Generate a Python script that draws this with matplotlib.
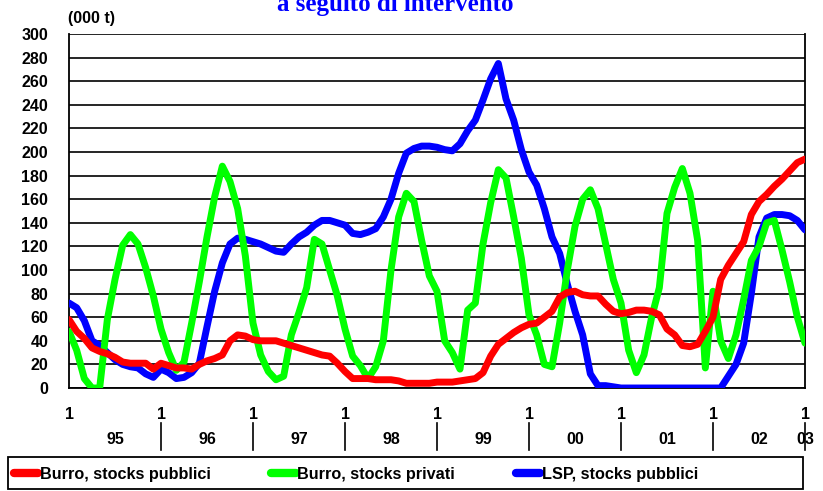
import numpy as np
import matplotlib
matplotlib.use('Agg')
import matplotlib.pyplot as plt
from matplotlib.patches import Rectangle
from matplotlib.lines import Line2D
import matplotlib.transforms as mtransforms

plt.rcParams['font.family'] = ['Liberation Sans', 'DejaVu Sans']
plt.rcParams['font.weight'] = 'bold'

# monthly stocks, Jan 1995 .. Jan 2003 (000 t)
burro_pubblici = [58, 48, 42, 34, 31, 29, 26, 22, 21, 21, 21, 16,
                  21, 19, 17, 17, 16, 20, 23, 25, 28, 40, 45, 44,
                  41, 40, 40, 40, 38, 36, 34, 32, 30, 28, 27, 21,
                  14, 8, 8, 8, 7, 7, 7, 6, 4, 4, 4, 4,
                  5, 5, 5, 6, 7, 8, 13, 27, 37, 42, 47, 51,
                  54, 55, 60, 65, 77, 81, 82, 79, 78, 78, 71, 65,
                  63, 64, 66, 66, 65, 62, 50, 45, 36, 35, 37, 48,
                  60, 92, 104, 114, 124, 147, 158, 164, 171, 177, 184, 191,
                  194]
burro_privati = [48, 32, 8, 0, 0, 58, 92, 121, 130, 122, 102, 78,
                 50, 30, 15, 22, 55, 90, 128, 162, 188, 175, 152, 112,
                 55, 28, 14, 7, 10, 45, 64, 85, 126, 122, 100, 78,
                 50, 27, 19, 8, 18, 40, 100, 145, 165, 158, 125, 95,
                 82, 40, 30, 16, 66, 72, 122, 157, 185, 178, 145, 110,
                 62, 45, 20, 18, 55, 100, 137, 160, 168, 152, 122, 92,
                 72, 32, 13, 28, 60, 85, 148, 170, 186, 165, 125, 17,
                 82, 40, 25, 45, 75, 108, 120, 140, 142, 117, 90, 60,
                 38]
lsp_pubblici = [72, 68, 57, 40, 36, 30, 24, 20, 18, 17, 12, 9,
                16, 13, 8, 9, 13, 21, 52, 82, 106, 122, 127, 126,
                124, 122, 119, 116, 115, 122, 128, 132, 138, 142, 142, 140,
                138, 131, 130, 132, 135, 145, 160, 182, 199, 203, 205, 205,
                204, 202, 201, 207, 218, 227, 244, 262, 275, 245, 227, 202,
                183, 172, 152, 128, 114, 88, 65, 45, 12, 2, 2, 1,
                0, 0, 0, 0, 0, 0, 0, 0, 0, 0, 0, 0,
                0, 0, 10, 20, 38, 80, 128, 144, 147, 147, 146, 142,
                134]

year_labels = ['95', '96', '97', '98', '99', '00', '01', '02', '03']
series_labels = ['Burro, stocks pubblici', 'Burro, stocks privati', 'LSP, stocks pubblici']
colors = ['#ff0000', '#00ff00', '#0000ff']

months = np.arange(len(burro_pubblici))
year_starts = np.arange(0, len(months), 12)

fig = plt.figure(figsize=(8.23, 4.91), dpi=100)
ax = fig.add_axes([69/823, 1 - 388/491, 736/823, 354/491])

lw = 5
ax.plot(months, lsp_pubblici, color=colors[2], lw=lw, solid_capstyle='round', solid_joinstyle='round', zorder=3)
ax.plot(months, burro_privati, color=colors[1], lw=lw, solid_capstyle='round', solid_joinstyle='round', zorder=4)
ax.plot(months, burro_pubblici, color=colors[0], lw=lw, solid_capstyle='round', solid_joinstyle='round', zorder=5)

ax.set_xlim(0, len(months) - 1)
ax.set_ylim(0, 300)
ax.set_yticks(np.arange(0, 301, 20))
ax.yaxis.grid(True, color='black', lw=1.2)
ax.set_axisbelow(True)
ax.tick_params(axis='y', length=0, pad=15, labelsize=11.5)
for s in ax.spines.values():
    s.set_linewidth(1.3)
ax.spines['top'].set_visible(False)

# x axis: "1" at each January, year names between
ax.set_xticks(year_starts)
ax.set_xticklabels(['1'] * len(year_starts))
ax.set_xticks(list(year_starts[:-1] + 6) + [year_starts[-1]], minor=True)
ax.set_xticklabels(year_labels, minor=True)
ax.xaxis.remove_overlapping_locs = False
ax.tick_params(axis='x', which='major', length=0, pad=14, labelsize=11.5)
ax.tick_params(axis='x', which='minor', length=0, pad=32, labelsize=11.5)

trans = mtransforms.blended_transform_factory(ax.transData, ax.transAxes)
for xs in year_starts[1:]:
    ax.plot([xs, xs], [-0.099, -0.175], color='black', lw=1.2, transform=trans, clip_on=False)

fig.text(68/823, 1 - 18/491, '(000 t)', fontsize=11.5, va='center', ha='left')
fig.text(395/823, 1 - 11/491, 'a seguito di intervento', fontsize=18, color='#0000ff',
         family=['Liberation Serif', 'DejaVu Serif'], weight='bold', ha='center', va='baseline')

# legend box
fig.patches.append(Rectangle((8/823, 2/491), 795/823, 32/491, transform=fig.transFigure,
                             fill=False, ec='black', lw=1.3))
handles = [Line2D([], [], color=c, lw=6, solid_capstyle='round') for c in colors]
fig.legend(handles, series_labels, ncol=3, frameon=False, loc='center left',
           bbox_to_anchor=(7/823, 1 - 474/491), fontsize=11.7, handlelength=1.5,
           handletextpad=0.1, columnspacing=3.75, borderaxespad=0)

fig.savefig('out.png', dpi=100)
